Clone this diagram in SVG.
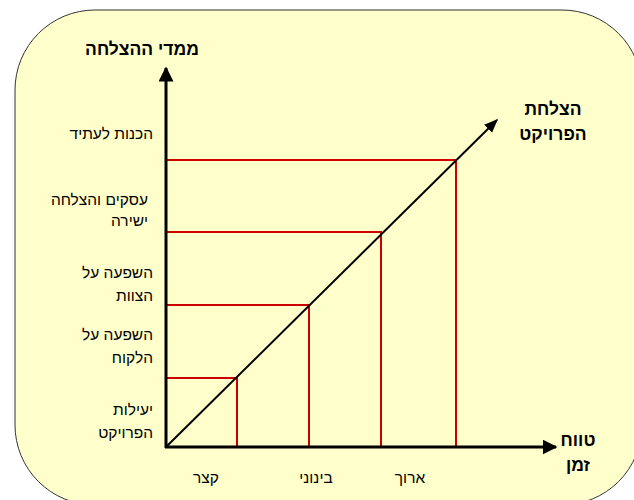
<svg xmlns="http://www.w3.org/2000/svg" width="634" height="500" viewBox="0 0 634 500">
<defs>
<style>
.t{font-family:"Liberation Sans",Arial,sans-serif;font-size:15.5px;fill:#000}
.b{font-family:"Liberation Sans",Arial,sans-serif;font-size:17.5px;font-weight:bold;fill:#000}
.r{stroke:#cc0000;stroke-width:2;fill:none}
.ax{stroke:#000;stroke-width:3;fill:none}
</style>
<marker id="ah" viewBox="0 0 10 10" refX="9" refY="5" markerWidth="5" markerHeight="5" orient="auto" markerUnits="strokeWidth"><path d="M0,0 L10,5 L0,10 z" fill="#000"/></marker>
<marker id="ah2" viewBox="0 0 10 10" refX="9" refY="5" markerWidth="7" markerHeight="7" orient="auto" markerUnits="strokeWidth"><path d="M0,1 L10,5 L0,9 z" fill="#000"/></marker>
</defs>
<rect x="15" y="10" width="627" height="495" rx="80" ry="80" fill="#ffffcc" stroke="#333" stroke-width="1"/>
<g id="connectors">
<path class="r" d="M166,160 H456 V447"/>
<path class="r" d="M166,232 H381 V447"/>
<path class="r" d="M166,305 H309 V447"/>
<path class="r" d="M166,378 H237 V447"/>
<line class="ax" x1="166" y1="448" x2="166" y2="68" marker-end="url(#ah)"/>
<line class="ax" x1="165" y1="447" x2="556" y2="447" marker-end="url(#ah)"/>
<line x1="166" y1="447" x2="497" y2="120" stroke="#000" stroke-width="2" marker-end="url(#ah2)"/>
</g>
<g id="title"><text class="b" x="142" y="55" text-anchor="middle">ממדי ההצלחה</text></g>
<g id="project-success"><text class="b" x="553" y="115" text-anchor="middle">הצלחת</text><text class="b" x="553" y="140" text-anchor="middle">הפרויקט</text></g>
<g id="time-range"><text class="b" x="578" y="446" text-anchor="middle">טווח</text><text class="b" x="578" y="471" text-anchor="middle">זמן</text></g>
<g id="label-future"><text class="t" x="153" y="139" text-anchor="end">הכנות לעתיד</text></g>
<g id="label-business"><text class="t" x="148" y="205" text-anchor="end">עסקים והצלחה</text><text class="t" x="148" y="226" text-anchor="end">ישירה</text></g>
<g id="label-team"><text class="t" x="153" y="278" text-anchor="end">השפעה על</text><text class="t" x="153" y="301" text-anchor="end">הצוות</text></g>
<g id="label-customer"><text class="t" x="153" y="340" text-anchor="end">השפעה על</text><text class="t" x="153" y="363" text-anchor="end">הלקוח</text></g>
<g id="label-efficiency"><text class="t" x="153" y="415" text-anchor="end">יעילות</text><text class="t" x="153" y="438" text-anchor="end">הפרויקט</text></g>
<g id="short"><text class="t" x="206" y="483" text-anchor="middle">קצר</text></g>
<g id="medium"><text class="t" x="316" y="483" text-anchor="middle">בינוני</text></g>
<g id="long"><text class="t" x="410" y="483" text-anchor="middle">ארוך</text></g>
</svg>
